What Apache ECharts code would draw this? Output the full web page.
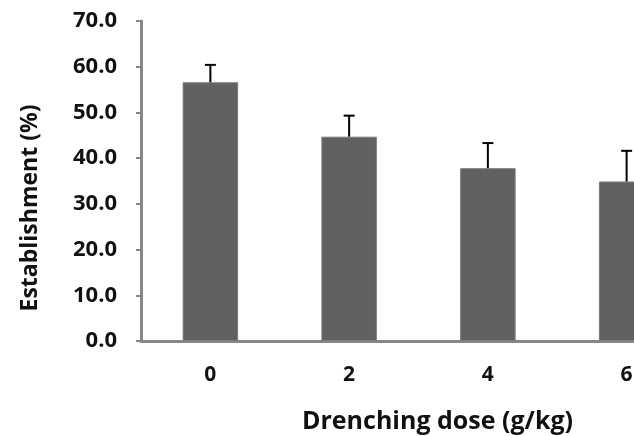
<!DOCTYPE html>
<html>
<head>
<meta charset="utf-8">
<script src="https://cdn.jsdelivr.net/npm/echarts@6/dist/echarts.min.js"></script>
<style>html,body{margin:0;padding:0;background:#fff}#c{width:634px;height:436px}</style>
</head>
<body>
<div id="c"></div>
<script>
const categories = ['0', '2', '4', '6'];
const establishment = [56.6, 44.7, 37.8, 34.9];
const errors = [3.8, 4.6, 5.5, 6.7];
const yTicks = [0, 10, 20, 30, 40, 50, 60, 70];

const chart = echarts.init(document.getElementById('c'));
const font = '"Open Sans", Lato, sans-serif';
chart.setOption({
  animation: false,
  backgroundColor: '#ffffff',
  grid: { left: 141, top: 21, width: 555, height: 320, outerBoundsMode: 'none', containLabel: false },
  xAxis: {
    type: 'category',
    data: categories,
    axisLine: { lineStyle: { color: '#878787', width: 3 } },
    axisTick: { show: false },
    axisLabel: { margin: 24, color: '#111', fontFamily: font, fontWeight: 'bold', fontSize: 21 },
    name: 'Drenching dose (g/kg)',
    nameLocation: 'middle',
    nameGap: 68,
    nameTextStyle: { color: '#111', fontFamily: font, fontWeight: 'bold', fontSize: 25, padding: [0, 0, 0, 38] }
  },
  yAxis: {
    type: 'value',
    min: yTicks[0],
    max: yTicks[yTicks.length - 1],
    interval: 10,
    splitLine: { show: false },
    axisLine: { show: true, lineStyle: { color: '#878787', width: 3 } },
    axisTick: { show: true, length: 5, lineStyle: { color: '#878787', width: 2 } },
    axisLabel: { margin: 24, color: '#111', fontFamily: font, fontWeight: 'bold', fontSize: 22,
      formatter: v => v.toFixed(1) },
    name: 'Establishment (%)',
    nameLocation: 'middle',
    nameGap: 99,
    nameTextStyle: { color: '#111', fontFamily: font, fontWeight: 'bold', fontSize: 23, padding: [0, 54, 0, 0] }
  },
  series: [
    {
      type: 'bar',
      data: establishment,
      barWidth: '40%',
      itemStyle: { color: '#616161', borderColor: '#7c7c7c', borderWidth: 1 },
      z: 2
    },
    {
      type: 'custom',
      z: 3,
      data: establishment.map((v, i) => [i, v, errors[i]]),
      renderItem: function (params, api) {
        const x = api.value(0);
        const top = api.coord([x, api.value(1) + api.value(2)]);
        const base = api.coord([x, api.value(1)]);
        const hw = 5.5;
        return {
          type: 'group',
          children: [
            { type: 'line', shape: { x1: base[0], y1: base[1], x2: top[0], y2: top[1] },
              style: { stroke: '#000', lineWidth: 2 } },
            { type: 'line', shape: { x1: top[0] - hw, y1: top[1], x2: top[0] + hw, y2: top[1] },
              style: { stroke: '#000', lineWidth: 2 } }
          ]
        };
      }
    }
  ]
});
</script>
</body>
</html>
